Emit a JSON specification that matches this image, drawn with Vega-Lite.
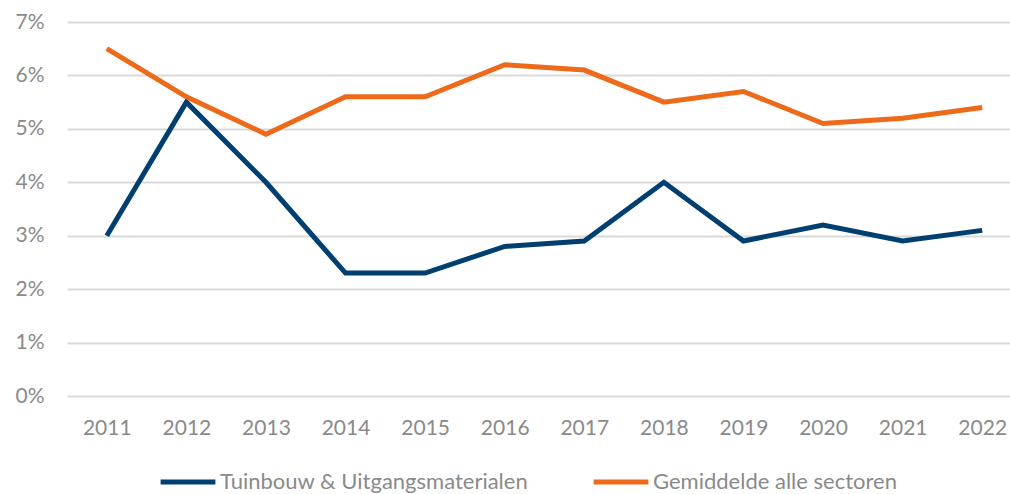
{
  "$schema": "https://vega.github.io/schema/vega-lite/v6.json",
  "autosize": {"type": "none"},
  "padding": {"left": 67, "top": 22, "right": 0, "bottom": 98},
  "width": 955,
  "height": 374,
  "background": "white",
  "config": {
    "view": {"stroke": null},
    "font": "Lato",
    "axis": {"labelFont": "Lato", "labelColor": "#8a8a8a", "labelFontSize": 21, "domain": false, "ticks": false},
    "legend": {"labelFont": "Lato", "labelColor": "#8a8a8a", "labelFontSize": 22, "labelLimit": 500}
  },
  "data": {
    "values": [
      {"jaar": "2011", "serie": "Tuinbouw & Uitgangsmaterialen", "waarde": 0.030},
      {"jaar": "2012", "serie": "Tuinbouw & Uitgangsmaterialen", "waarde": 0.055},
      {"jaar": "2013", "serie": "Tuinbouw & Uitgangsmaterialen", "waarde": 0.040},
      {"jaar": "2014", "serie": "Tuinbouw & Uitgangsmaterialen", "waarde": 0.023},
      {"jaar": "2015", "serie": "Tuinbouw & Uitgangsmaterialen", "waarde": 0.023},
      {"jaar": "2016", "serie": "Tuinbouw & Uitgangsmaterialen", "waarde": 0.028},
      {"jaar": "2017", "serie": "Tuinbouw & Uitgangsmaterialen", "waarde": 0.029},
      {"jaar": "2018", "serie": "Tuinbouw & Uitgangsmaterialen", "waarde": 0.040},
      {"jaar": "2019", "serie": "Tuinbouw & Uitgangsmaterialen", "waarde": 0.029},
      {"jaar": "2020", "serie": "Tuinbouw & Uitgangsmaterialen", "waarde": 0.032},
      {"jaar": "2021", "serie": "Tuinbouw & Uitgangsmaterialen", "waarde": 0.029},
      {"jaar": "2022", "serie": "Tuinbouw & Uitgangsmaterialen", "waarde": 0.031},
      {"jaar": "2011", "serie": "Gemiddelde alle sectoren", "waarde": 0.065},
      {"jaar": "2012", "serie": "Gemiddelde alle sectoren", "waarde": 0.056},
      {"jaar": "2013", "serie": "Gemiddelde alle sectoren", "waarde": 0.049},
      {"jaar": "2014", "serie": "Gemiddelde alle sectoren", "waarde": 0.056},
      {"jaar": "2015", "serie": "Gemiddelde alle sectoren", "waarde": 0.056},
      {"jaar": "2016", "serie": "Gemiddelde alle sectoren", "waarde": 0.062},
      {"jaar": "2017", "serie": "Gemiddelde alle sectoren", "waarde": 0.061},
      {"jaar": "2018", "serie": "Gemiddelde alle sectoren", "waarde": 0.055},
      {"jaar": "2019", "serie": "Gemiddelde alle sectoren", "waarde": 0.057},
      {"jaar": "2020", "serie": "Gemiddelde alle sectoren", "waarde": 0.051},
      {"jaar": "2021", "serie": "Gemiddelde alle sectoren", "waarde": 0.052},
      {"jaar": "2022", "serie": "Gemiddelde alle sectoren", "waarde": 0.054}
    ]
  },
  "mark": {"type": "line", "strokeWidth": 5, "strokeCap": "butt", "strokeJoin": "miter"},
  "encoding": {
    "x": {
      "field": "jaar", "type": "ordinal",
      "scale": {"type": "point", "padding": 0.5},
      "axis": {"title": null, "labelAngle": 0, "labelPadding": 21, "grid": false}
    },
    "y": {
      "field": "waarde", "type": "quantitative",
      "scale": {"domain": [0, 0.07], "nice": false},
      "axis": {"title": null, "format": ".0%", "values": [0, 0.01, 0.02, 0.03, 0.04, 0.05, 0.06, 0.07], "labelOverlap": false, "labelFlush": false, "labelPadding": 23, "grid": true, "gridColor": "#d9d9d9", "gridWidth": 2}
    },
    "color": {
      "field": "serie", "type": "nominal",
      "scale": {"domain": ["Tuinbouw & Uitgangsmaterialen", "Gemiddelde alle sectoren"], "range": ["#003f70", "#ec6a1a"]},
      "legend": {"title": null, "orient": "none", "legendX": 91, "legendY": 430, "direction": "horizontal", "symbolType": "stroke", "symbolStrokeWidth": 5, "symbolSize": 3000, "labelOffset": 2, "columnPadding": 54}
    }
  }
}
